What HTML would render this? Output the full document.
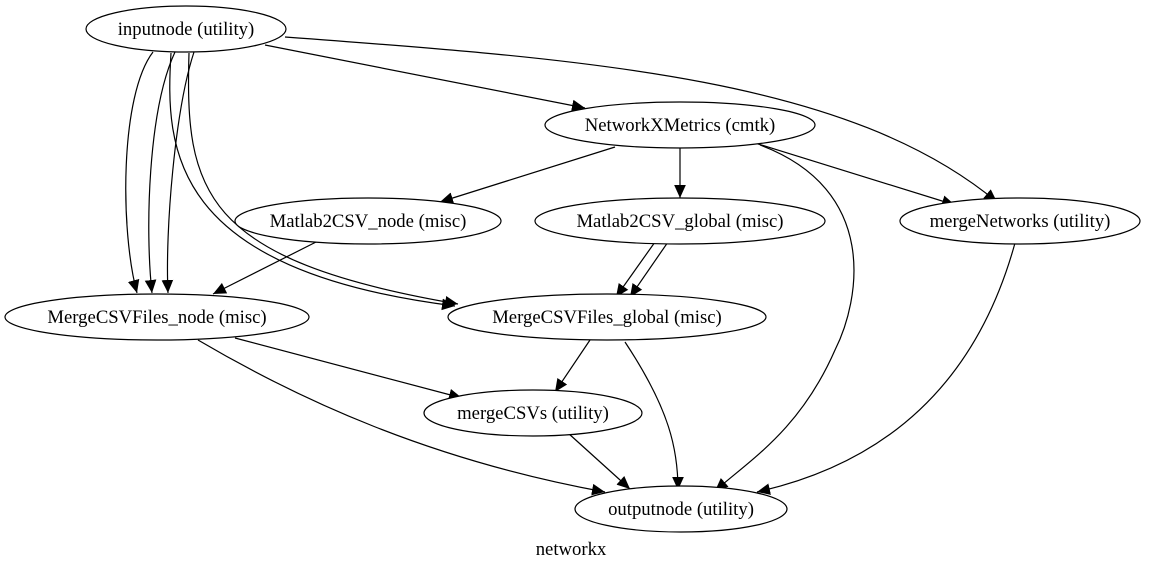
<!DOCTYPE html>
<html><head><meta charset="utf-8"><style>
html,body{margin:0;padding:0;background:#fff;}
svg{display:block;}
text{font-family:"Liberation Serif",serif;font-size:18.7px;fill:#000;}
</style></head><body>
<svg width="1158" height="568" viewBox="0 0 1158 568" xmlns="http://www.w3.org/2000/svg">
<defs><marker id="a" viewBox="0 0 10 10" refX="10" refY="5" markerWidth="13" markerHeight="13" markerUnits="userSpaceOnUse" orient="auto"><path d="M0,0.5 L10,5 L0,9.5 z" fill="#000"/></marker></defs>
<g fill="none" stroke="#000" stroke-width="1.2" marker-end="url(#a)">
<path d="M265,45 L585,108"/>
<path d="M285,37 C600,60 850,80 997,202"/>
<path d="M153,52 C120,95 120,230 137,293"/>
<path d="M175,52 C148,110 145,230 152,293"/>
<path d="M194,52 C175,110 165,230 168,293"/>
<path d="M171,53 C165,150 170,270 455,306"/>
<path d="M189,53 C185,190 200,260 458,304"/>
<path d="M615,147 L440,202"/>
<path d="M680,143 L680,198"/>
<path d="M755,143 L955,205"/>
<path d="M760,145 C880,190 860,300 835,350 C800,430 750,460 715,491"/>
<path d="M322,239 L213,294"/>
<path d="M655,242 L616,297"/>
<path d="M668,242 L630,297"/>
<path d="M1015,243 C980,370 900,460 757,492"/>
<path d="M235,338 L462,398"/>
<path d="M198,340 C300,400 430,460 605,492"/>
<path d="M590,340 L555,392"/>
<path d="M625,342 C670,410 678,450 678,490"/>
<path d="M568,433 L630,489"/>
</g>
<g fill="#fff" stroke="#000" stroke-width="1.2">
<ellipse cx="186" cy="29" rx="100" ry="23"/>
<ellipse cx="680" cy="125" rx="135" ry="23"/>
<ellipse cx="368" cy="221" rx="133" ry="23"/>
<ellipse cx="680" cy="221" rx="145" ry="23"/>
<ellipse cx="1020" cy="221" rx="120" ry="23"/>
<ellipse cx="157" cy="317" rx="152" ry="23"/>
<ellipse cx="607" cy="317" rx="159" ry="23"/>
<ellipse cx="533" cy="413" rx="109" ry="23"/>
<ellipse cx="681" cy="509" rx="106" ry="23"/>
</g>
<g text-anchor="middle">
<text x="186" y="35">inputnode (utility)</text>
<text x="680" y="131">NetworkXMetrics (cmtk)</text>
<text x="368" y="227">Matlab2CSV_node (misc)</text>
<text x="680" y="227">Matlab2CSV_global (misc)</text>
<text x="1020" y="227">mergeNetworks (utility)</text>
<text x="157" y="323">MergeCSVFiles_node (misc)</text>
<text x="607" y="323">MergeCSVFiles_global (misc)</text>
<text x="533" y="419">mergeCSVs (utility)</text>
<text x="681" y="515">outputnode (utility)</text>
<text x="571" y="555">networkx</text>
</g>
</svg>
</body></html>
